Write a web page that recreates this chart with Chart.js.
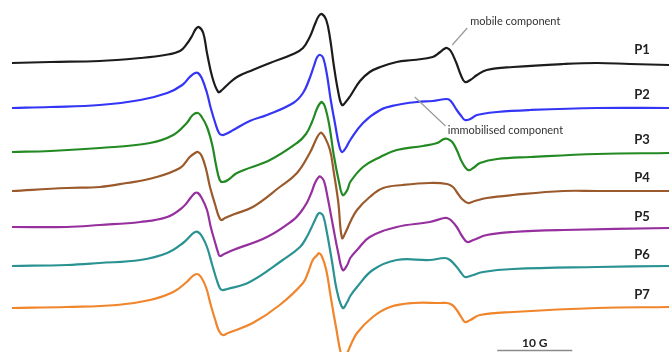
<!DOCTYPE html>
<html>
<head>
<meta charset="utf-8">
<script src="https://cdn.jsdelivr.net/npm/chart.js@4/dist/chart.umd.min.js"></script>
<style>
  html, body { margin: 0; padding: 0; background: #ffffff; }
  #wrap { width: 669px; height: 352px; }
</style>
</head>
<body>
<div id="wrap"><canvas id="c" width="669" height="352"></canvas></div>
<script>
// EPR spectra of spin-labelled samples P1–P7, stacked vertically.
// Field is in gauss (relative), signal in arbitrary units including the stacking offset.

const sampleNames = ['P1', 'P2', 'P3', 'P4', 'P5', 'P6', 'P7'];

const fieldP1 = [0, 5.1, 11.7, 17.1, 20.4, 22.4, 23.3, 24.0, 24.5, 24.9, 25.5, 26.0, 26.7, 27.5, 28.0, 28.7, 30.0, 32.1, 34.4, 37.5, 38.8, 39.7, 40.4, 40.9, 41.3, 41.9, 42.4, 42.9, 43.5, 44.0, 44.5, 45.1, 46.4, 47.7, 49.1, 51.3, 53.5, 56.1, 57.1, 57.6, 58.0, 58.5, 59.2, 59.9, 60.4, 61.1, 62.0, 63.3, 66.8, 73.5, 78.0, 82.4, 87.6];
const signalP1 = [289, 290, 291, 294, 297, 301, 308, 316, 323, 325, 319, 299, 275, 260, 262, 267, 275, 282, 289, 298, 304, 315, 328, 336, 338, 332, 314, 287, 260, 247, 250, 256, 271, 280, 285, 290, 292, 295, 300, 303, 304, 301, 290, 276, 270, 272, 277, 282, 285, 288, 289, 288, 287];

const fieldP2 = [0, 5.1, 11.7, 17.1, 20.7, 22.7, 23.7, 24.4, 24.8, 25.3, 26.0, 26.5, 27.1, 27.6, 28.0, 28.5, 29.5, 31.7, 34.0, 37.5, 38.8, 39.6, 40.3, 40.7, 41.1, 41.5, 42.0, 42.5, 43.1, 43.6, 44.0, 44.5, 45.1, 46.8, 49.1, 51.3, 54.0, 56.1, 58.0, 58.5, 59.3, 59.9, 60.4, 61.1, 62.0, 64.7, 69.1, 78.0, 87.6];
const signalP2 = [244, 245, 247, 252, 259, 267, 275, 279, 279, 274, 259, 244, 229, 219, 217, 218, 222, 231, 237, 249, 259, 272, 287, 295, 297, 294, 277, 252, 227, 207, 200, 204, 212, 229, 242, 247, 250, 251, 253, 251, 242, 236, 232, 233, 237, 240, 242, 244, 244];

const fieldP3 = [0, 5.1, 11.7, 18.4, 21.5, 23.3, 24.1, 24.8, 25.3, 26.0, 26.7, 27.2, 27.7, 28.1, 28.8, 30.0, 34.4, 38.0, 39.2, 40.0, 40.7, 41.1, 41.3, 41.7, 42.3, 42.9, 43.6, 44.1, 44.7, 45.1, 46.8, 49.1, 51.3, 54.8, 56.7, 57.6, 58.1, 58.7, 59.3, 60.0, 60.8, 61.5, 62.4, 64.7, 69.1, 78.0, 87.6];
const signalP3 = [200, 201, 204, 209, 217, 229, 237, 239, 235, 225, 207, 187, 172, 170, 172, 179, 192, 209, 218, 230, 244, 249, 250, 246, 227, 197, 170, 157, 162, 170, 185, 195, 202, 206, 209, 213, 213, 210, 202, 190, 182, 184, 189, 193, 195, 198, 199];

const fieldP4 = [0, 7.3, 11.7, 15.3, 18.8, 22.4, 23.7, 24.4, 24.8, 25.3, 25.9, 26.4, 27.1, 27.5, 27.9, 28.4, 29.7, 32.1, 35.7, 38.0, 39.7, 40.7, 41.1, 41.3, 41.7, 42.4, 42.9, 43.5, 44.0, 44.5, 45.1, 46.0, 47.7, 49.5, 52.1, 55.7, 58.0, 58.8, 59.3, 60.0, 60.8, 61.7, 63.3, 66.8, 73.5, 78.0, 87.6];
const signalP4 = [161, 164, 165, 169, 174, 184, 195, 199, 200, 196, 182, 165, 147, 137, 132, 134, 138, 145, 165, 179, 199, 215, 219, 219, 215, 202, 180, 150, 114, 120, 130, 142, 155, 164, 167, 169, 168, 165, 160, 153, 149, 151, 154, 157, 161, 161, 161];

const fieldP5 = [0, 7.3, 11.7, 17.1, 20.7, 22.8, 23.9, 24.4, 24.8, 25.3, 26.0, 26.5, 27.1, 27.5, 27.7, 28.3, 29.5, 34.0, 37.5, 38.4, 39.3, 39.9, 40.4, 40.9, 41.2, 41.6, 42.1, 42.8, 43.5, 44.1, 44.7, 45.1, 46.0, 47.7, 51.3, 55.7, 57.6, 58.0, 58.5, 59.3, 60.0, 60.7, 61.5, 63.3, 66.8, 73.5, 87.6];
const signalP5 = [125, 125, 127, 130, 135, 145, 155, 159, 159, 154, 142, 125, 109, 99, 96, 98, 102, 115, 132, 139, 149, 159, 169, 175, 175, 171, 154, 126, 99, 82, 87, 94, 102, 115, 125, 130, 134, 134, 132, 125, 116, 110, 112, 117, 120, 122, 124];

const fieldP6 = [0, 7.3, 11.7, 17.1, 20.7, 22.8, 23.9, 24.4, 24.8, 25.3, 26.0, 26.7, 27.3, 27.7, 28.0, 28.7, 31.7, 36.1, 38.4, 39.3, 39.9, 40.4, 40.8, 41.1, 41.5, 42.0, 42.7, 43.3, 44.1, 44.7, 45.1, 46.0, 48.1, 51.3, 55.7, 57.7, 58.4, 59.3, 59.9, 60.4, 61.1, 62.8, 66.8, 78.0, 87.6];
const signalP6 = [86, 87, 89, 92, 99, 109, 117, 120, 120, 116, 105, 87, 72, 64, 62, 63, 70, 92, 105, 115, 124, 132, 138, 139, 136, 119, 89, 62, 44, 50, 56, 65, 82, 92, 92, 94, 92, 85, 79, 75, 76, 80, 83, 85, 86];

const fieldP7 = [0, 7.3, 14.0, 18.4, 21.5, 23.3, 24.1, 24.7, 25.2, 25.9, 26.5, 27.1, 27.6, 28.1, 28.8, 32.1, 35.7, 38.8, 39.5, 40.1, 40.7, 40.9, 41.3, 41.9, 42.5, 43.2, 44.0, 44.5, 45.1, 46.0, 48.1, 50.4, 53.5, 57.1, 58.0, 58.7, 59.3, 59.9, 60.4, 61.1, 62.4, 66.8, 78.0, 87.6];
const signalP7 = [44, 45, 47, 52, 60, 70, 76, 78, 75, 64, 47, 32, 21, 17, 19, 29, 47, 69, 80, 92, 97, 99, 96, 82, 55, 25, -5, -4, 6, 19, 35, 45, 49, 49, 49, 47, 42, 35, 30, 32, 37, 40, 44, 45];

const fieldSets = [fieldP1, fieldP2, fieldP3, fieldP4, fieldP5, fieldP6, fieldP7];
const signalSets = [signalP1, signalP2, signalP3, signalP4, signalP5, signalP6, signalP7];
const traceColors = ['#1c1c1c', '#3535f5', '#238a23', '#9a5a2c', '#96309e', '#2a9292', '#f0852c'];

// Scale bar length in gauss
const scaleBarGauss = 10;

function points(xs, ys) {
  return xs.map((x, i) => ({ x: x, y: ys[i] }));
}

const datasets = sampleNames.map((name, i) => ({
  label: name,
  data: points(fieldSets[i], signalSets[i]),
  borderColor: traceColors[i],
  borderWidth: 2.2,
  pointRadius: 0,
  fill: false,
  tension: 0.4
}));

// Text and leader lines placed in data coordinates (field G, signal a.u.)
const decor = {
  labelField: 84.0,
  labelSignals: [302, 257, 212, 174, 135, 97, 57],
  mobile: { text: 'mobile component', x: 61.1, y: 331, from: [60.7, 324], to: [58.7, 307] },
  immobile: { text: 'immobilised component', x: 58.1, y: 222, from: [53.7, 255], to: [57.8, 226] },
  bar: { start: 64.7, y: 1.5, labelY: 9 }
};

const annotate = {
  id: 'annotate',
  afterDatasetsDraw(chart) {
    const { ctx, scales: { x, y } } = chart;
    ctx.save();

    // sample labels
    ctx.fillStyle = '#222';
    ctx.font = 'bold 13px Lato, "Open Sans", sans-serif';
    ctx.textAlign = 'center';
    ctx.textBaseline = 'middle';
    sampleNames.forEach((n, i) => {
      ctx.fillText(n, x.getPixelForValue(decor.labelField), y.getPixelForValue(decor.labelSignals[i]));
    });

    // component annotations with leader lines
    ctx.strokeStyle = '#9a9a9a';
    ctx.lineWidth = 1.2;
    [decor.mobile, decor.immobile].forEach(a => {
      ctx.beginPath();
      ctx.moveTo(x.getPixelForValue(a.from[0]), y.getPixelForValue(a.from[1]));
      ctx.lineTo(x.getPixelForValue(a.to[0]), y.getPixelForValue(a.to[1]));
      ctx.stroke();
    });
    ctx.fillStyle = '#333';
    ctx.font = '11px Lato, "Open Sans", sans-serif';
    ctx.textAlign = 'left';
    [decor.mobile, decor.immobile].forEach(a => {
      ctx.fillText(a.text, x.getPixelForValue(a.x), y.getPixelForValue(a.y));
    });

    // field scale bar
    const x0 = x.getPixelForValue(decor.bar.start);
    const x1 = x.getPixelForValue(decor.bar.start + scaleBarGauss);
    const yb = y.getPixelForValue(decor.bar.y);
    ctx.strokeStyle = '#8a8a8a';
    ctx.lineWidth = 1.5;
    ctx.beginPath();
    ctx.moveTo(x0, yb);
    ctx.lineTo(x1, yb);
    ctx.stroke();
    ctx.fillStyle = '#222';
    ctx.font = 'bold 12px Lato, "Open Sans", sans-serif';
    ctx.textAlign = 'center';
    ctx.fillText(scaleBarGauss + ' G', (x0 + x1) / 2, y.getPixelForValue(decor.bar.labelY));

    ctx.restore();
  }
};

new Chart(document.getElementById('c'), {
  type: 'line',
  data: { datasets: datasets },
  options: {
    responsive: false,
    devicePixelRatio: 1,
    animation: false,
    layout: { padding: 0 },
    plugins: { legend: { display: false }, tooltip: { enabled: false }, title: { display: false } },
    scales: {
      x: { type: 'linear', min: -1.6, max: 87.6, display: false },
      y: { type: 'linear', min: 0, max: 352, display: false }
    }
  },
  plugins: [annotate]
});
</script>
</body>
</html>
